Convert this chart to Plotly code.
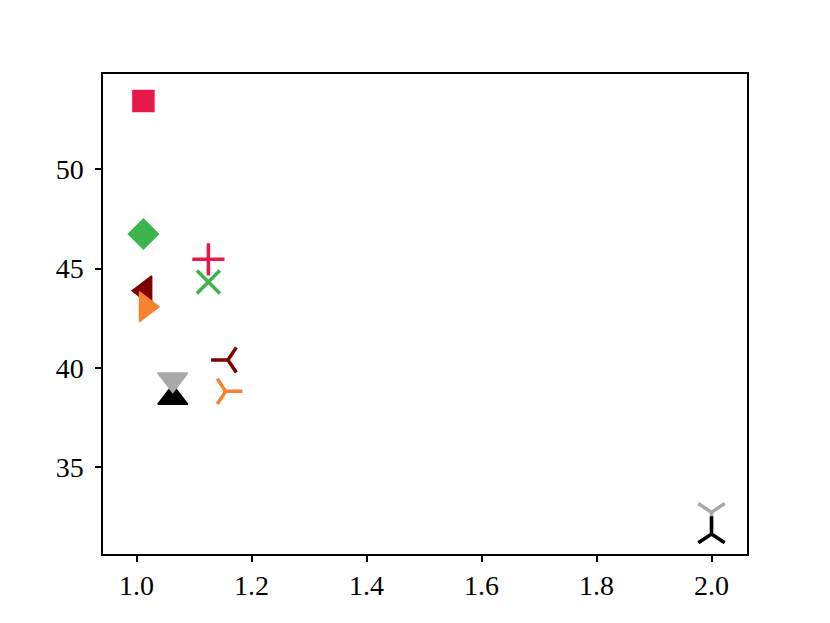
import plotly.graph_objects as go

# one colour per method
colors = ["#e6194b", "#3cb44b", "#800000", "#f58231", "#a9a9a9", "#000000"]

# first marker of each method (filled shapes, near x = 1)
first_symbols = ["square", "diamond", "triangle-left", "triangle-right", "triangle-down", "triangle-up"]
first_x = [1.012, 1.012, 1.015, 1.0165, 1.063, 1.063]
first_y = [53.44, 46.74, 43.88, 43.08, 39.42, 38.5]

# second marker of each method (line shapes)
second_symbols = ["cross-thin", "x-thin", "y-left", "y-right", "y-down", "y-up"]
second_x = [1.125, 1.125, 1.159, 1.155, 2.0, 2.0]
second_y = [45.47, 44.33, 40.40, 38.82, 32.73, 31.64]

x_ticks = [1.0, 1.2, 1.4, 1.6, 1.8, 2.0]
y_ticks = [35, 40, 45, 50]

# marker sizes (px) and draw order
first_sizes = [21, 23, 26, 26, 26, 26]
second_sizes = [23, 23, 21, 21, 22, 22]
first_order = [0, 1, 2, 3, 5, 4]   # grey triangle sits on top of the black one

fig = go.Figure()

fig.add_trace(go.Scatter(
    x=[first_x[i] for i in first_order],
    y=[first_y[i] for i in first_order],
    mode="markers",
    marker=dict(
        symbol=[first_symbols[i] for i in first_order],
        size=[first_sizes[i] for i in first_order],
        color=[colors[i] for i in first_order],
        line=dict(color=[colors[i] for i in first_order], width=1.5),
        opacity=1,
    ),
    showlegend=False,
    hoverinfo="skip",
))

fig.add_trace(go.Scatter(
    x=second_x,
    y=second_y,
    mode="markers",
    marker=dict(
        symbol=second_symbols,
        size=second_sizes,
        color=colors,
        line=dict(color=colors, width=3.5),
        opacity=1,
    ),
    showlegend=False,
    hoverinfo="skip",
))

axis_style = dict(
    showgrid=False,
    zeroline=False,
    showline=True,
    mirror=True,
    linecolor="black",
    linewidth=1.5,
    ticks="outside",
    ticklen=6,
    tickwidth=1.5,
    tickcolor="black",
)

# page body has an 8px margin, so the margins are trimmed by that much
fig.update_layout(
    width=830,
    height=623,
    margin=dict(l=95, r=91, t=66, b=77),
    paper_bgcolor="white",
    plot_bgcolor="white",
    font=dict(family="Liberation Serif", size=28, color="black"),
    xaxis=dict(range=[0.9417, 2.0617], tickvals=x_ticks,
               ticktext=[f"{v:.1f}" for v in x_ticks], **axis_style),
    yaxis=dict(range=[30.63, 54.80], tickvals=y_ticks, ticklabelstandoff=6,
               ticktext=[str(v) for v in y_ticks], **axis_style),
)

fig.write_html("out.html")
